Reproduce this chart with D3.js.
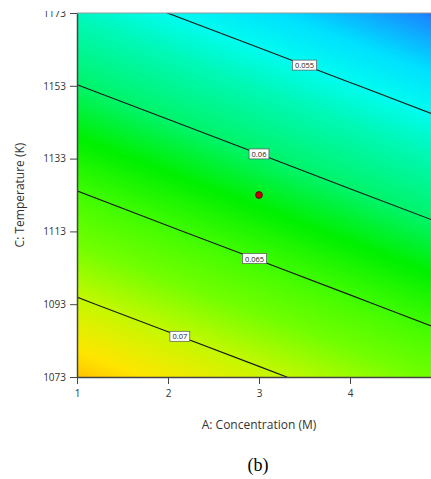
<!DOCTYPE html>
<html>
<head>
<meta charset="utf-8">
<script src="https://cdn.jsdelivr.net/npm/d3@7"></script>
<style>
  html, body { margin: 0; padding: 0; background: #fff; }
  svg { display: block; }
</style>
</head>
<body>
<svg id="chart" width="431" height="479"></svg>
<script>
// ---- data ----
const concentration = [1, 2, 3, 4, 5];                      // A (M)
const temperature = [1073, 1093, 1113, 1133, 1153, 1173];   // C (K)
// response grid: one row per temperature, one value per concentration
const response = [
  [0.07376, 0.07213, 0.07050, 0.06886, 0.06723],
  [0.07033, 0.06870, 0.06707, 0.06544, 0.06380],
  [0.06691, 0.06527, 0.06364, 0.06201, 0.06038],
  [0.06348, 0.06185, 0.06022, 0.05858, 0.05695],
  [0.06005, 0.05842, 0.05679, 0.05516, 0.05352],
  [0.05663, 0.05499, 0.05336, 0.05173, 0.05010]
];
const contourLevels = [0.055, 0.06, 0.065, 0.07];
const contourLabels = ["0.055", "0.06", "0.065", "0.07"];
const labelAtConcentration = [3.5, 3.0, 2.95, 2.13];
const xTicks = [1, 2, 3, 4];
const yTicks = [1073, 1093, 1113, 1133, 1153, 1173];
const centerPoint = [3, 1123];
const colorValues = [0.0500, 0.0505, 0.0530, 0.0550, 0.0570, 0.0600, 0.0625, 0.0650, 0.0675, 0.0700, 0.0725, 0.0740];
const colorStops  = ["#1060ff", "#1a8aff", "#00e0ff", "#00fcf0", "#00f8b4", "#00f46a", "#00f000", "#40fc00", "#72ff00", "#c4f800", "#ffe600", "#ffbc00"];

// ---- layout ----
const svg = d3.select("#chart");
const pL = 77, pB = 377, pT = 13, pR = 441;
const x = d3.scaleLinear().domain([1, 5]).range([pL, pR]);
const y = d3.scaleLinear().domain([1073, 1173]).range([pB, pT]);
const color = d3.scaleLinear().domain(colorValues).range(colorStops).clamp(true);

const nx = concentration.length, ny = temperature.length;
const flat = [];
for (let j = 0; j < ny; j++) for (let i = 0; i < nx; i++) flat.push(response[j][i]);

const dA = concentration[1] - concentration[0];
const dT = temperature[1] - temperature[0];
const gxToPx = gx => x(concentration[0] + (gx - 0.5) * dA);
const gyToPx = gy => y(temperature[0] + (gy - 0.5) * dT);
const proj = d3.geoTransform({
  point: function (gx, gy) { this.stream.point(gxToPx(gx), gyToPx(gy)); }
});
const path = d3.geoPath(proj);

svg.append("clipPath").attr("id", "plotclip")
  .append("rect").attr("x", pL).attr("y", pT).attr("width", pR - pL).attr("height", pB - pT);

const plot = svg.append("g").attr("clip-path", "url(#plotclip)");

// colour fill: many thin bands
const ext = d3.extent(flat);
const fillThresholds = d3.range(ext[0] - 0.0002, ext[1] + 0.0002, 0.00008);
const bands = d3.contours().size([nx, ny]).thresholds(fillThresholds)(flat);
plot.append("rect").attr("x", pL).attr("y", pT).attr("width", pR - pL).attr("height", pB - pT)
  .attr("fill", color(ext[0]));
plot.selectAll("path.band").data(bands).join("path")
  .attr("class", "band")
  .attr("d", path)
  .attr("fill", d => color(d.value))
  .attr("stroke", d => color(d.value))
  .attr("stroke-width", 0.6);

// contour lines
const lines = d3.contours().size([nx, ny]).thresholds(contourLevels)(flat);
plot.selectAll("path.cline").data(lines).join("path")
  .attr("class", "cline")
  .attr("d", path)
  .attr("fill", "none")
  .attr("stroke", "#1a1a1a")
  .attr("stroke-width", 1.1);

// contour labels: find where each line crosses the chosen concentration
function crossing(mp, px) {
  let best = null;
  mp.coordinates.forEach(poly => poly.forEach(ring => {
    for (let k = 0; k < ring.length - 1; k++) {
      const p0 = ring[k], p1 = ring[k + 1];
      const x0 = gxToPx(p0[0]), x1 = gxToPx(p1[0]);
      const y0 = gyToPx(p0[1]), y1 = gyToPx(p1[1]);
      if ((x0 - px) * (x1 - px) <= 0 && x0 !== x1) {
        const t = (px - x0) / (x1 - x0);
        const yy = y0 + t * (y1 - y0);
        if (yy > pT + 1 && yy < pB - 1) best = yy;
      }
    }
  }));
  return best;
}
lines.forEach((mp, i) => {
  const px = x(labelAtConcentration[i]);
  const py = crossing(mp, px);
  if (py == null) return;
  const g = svg.append("g").attr("transform", `translate(${px},${py})`);
  const t = g.append("text").text(contourLabels[i])
    .attr("text-anchor", "middle").attr("dominant-baseline", "central")
    .attr("font-family", "Open Sans, sans-serif").attr("font-size", 7.5).attr("fill", "#222");
  const w = t.node().getComputedTextLength() + 5;
  g.insert("rect", "text").attr("x", -w / 2).attr("y", -5).attr("width", w).attr("height", 10)
    .attr("fill", "#fff").attr("stroke", "#555").attr("stroke-width", 0.7);
});

// centre point
svg.append("circle").attr("cx", x(centerPoint[0])).attr("cy", y(centerPoint[1])).attr("r", 3.4)
  .attr("fill", "#c80000").attr("stroke", "#400").attr("stroke-width", 0.8);

// axes
const xAxis = d3.axisBottom(x).tickValues(xTicks).tickFormat(d3.format("d")).tickSize(7).tickSizeOuter(0).tickPadding(6);
const yAxis = d3.axisLeft(y).tickValues(yTicks).tickFormat(d3.format("d")).tickSize(7).tickSizeOuter(0).tickPadding(4);
const gX = svg.append("g").attr("transform", `translate(0,${pB})`).call(xAxis);
const gY = svg.append("g").attr("transform", `translate(${pL},0)`).call(yAxis);
[gX, gY].forEach(g => {
  g.selectAll("path.domain").attr("stroke", "#444").attr("stroke-width", 1.5);
  g.selectAll(".tick line").attr("stroke", "#444").attr("stroke-width", 1);
  g.selectAll(".tick text").attr("font-family", "Open Sans, sans-serif").attr("font-size", 10).attr("fill", "#333");
});
// top frame line
svg.append("line").attr("x1", pL).attr("x2", 431).attr("y1", pT).attr("y2", pT)
  .attr("stroke", "#999").attr("stroke-width", 1.2);

// cropped top edge of original image
svg.append("rect").attr("x", 0).attr("y", 0).attr("width", 431).attr("height", 11).attr("fill", "#fff");

// axis titles
svg.append("text").text("A: Concentration (M)")
  .attr("x", 259).attr("y", 429).attr("text-anchor", "middle")
  .attr("font-family", "Open Sans, sans-serif").attr("font-size", 12).attr("fill", "#333");
svg.append("text").text("C: Temperature (K)")
  .attr("transform", "translate(24,195) rotate(-90)").attr("text-anchor", "middle")
  .attr("font-family", "Open Sans, sans-serif").attr("font-size", 12).attr("fill", "#333");

// panel caption
svg.append("text").text("(b)")
  .attr("x", 258).attr("y", 471).attr("text-anchor", "middle")
  .attr("font-family", "Liberation Serif, serif").attr("font-size", 18).attr("fill", "#000");
</script>
</body>
</html>
